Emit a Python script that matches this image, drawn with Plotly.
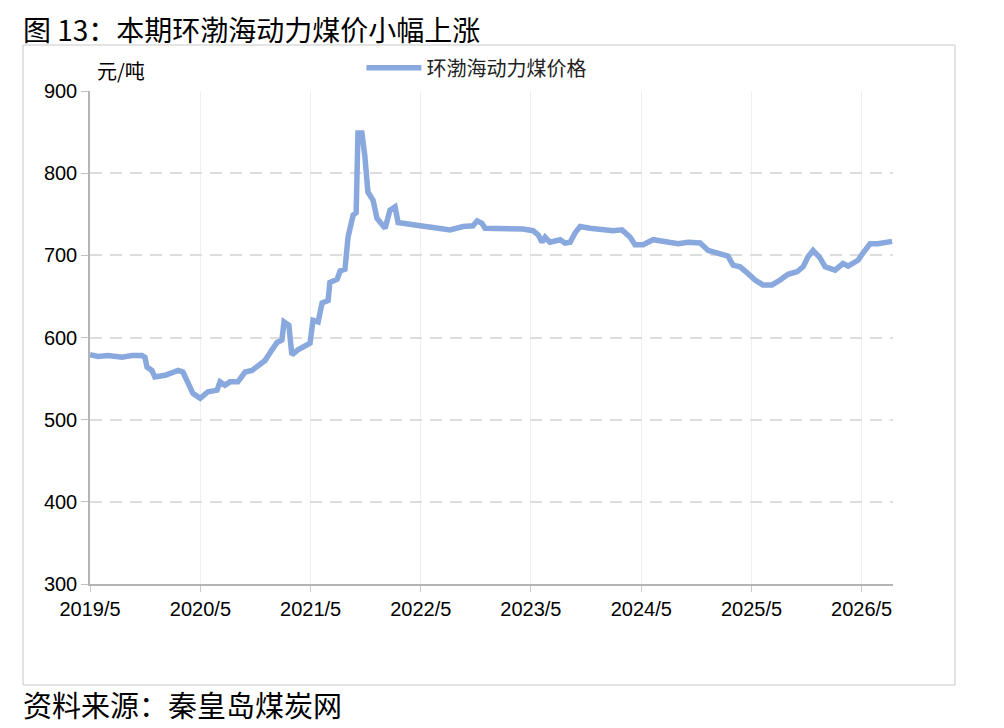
import plotly.graph_objects as go

# 环渤海动力煤价格（元/吨），读图估计
dates = [
    "2019-05-01", "2019-05-27", "2019-06-30", "2019-08-15", "2019-09-17", "2019-10-20",
    "2019-10-30", "2019-11-06", "2019-11-22", "2019-12-02", "2020-01-05", "2020-01-28",
    "2020-02-17", "2020-03-04", "2020-03-21", "2020-04-06", "2020-04-30", "2020-05-26",
    "2020-06-25", "2020-07-05", "2020-07-21", "2020-08-07", "2020-09-02", "2020-09-26",
    "2020-10-19", "2020-11-08", "2020-12-01", "2020-12-24", "2021-01-10", "2021-01-26",
    "2021-02-02", "2021-02-18", "2021-02-28", "2021-03-20", "2021-04-12", "2021-04-29",
    "2021-05-09", "2021-05-26", "2021-06-08", "2021-06-28", "2021-07-04", "2021-07-28",
    "2021-08-07", "2021-08-23", "2021-09-02", "2021-09-19", "2021-09-29", "2021-10-05",
    "2021-10-18", "2021-10-28", "2021-11-07", "2021-11-24", "2021-12-07", "2022-01-03",
    "2022-01-19", "2022-02-05", "2022-02-15", "2022-03-16", "2022-04-29", "2022-06-11",
    "2022-08-06", "2022-09-18", "2022-10-21", "2022-11-04", "2022-11-20", "2022-11-30",
    "2023-01-29", "2023-02-21", "2023-04-05", "2023-05-08", "2023-05-25", "2023-06-07",
    "2023-06-17", "2023-07-03", "2023-08-06", "2023-08-22", "2023-09-08", "2023-09-24",
    "2023-10-11", "2023-11-13", "2023-12-16", "2024-01-28", "2024-02-27", "2024-03-25",
    "2024-04-10", "2024-05-07", "2024-06-09", "2024-07-25", "2024-08-31", "2024-10-03",
    "2024-11-12", "2024-12-08", "2025-01-10", "2025-02-12", "2025-03-01", "2025-03-24",
    "2025-04-16", "2025-05-13", "2025-06-08", "2025-07-08", "2025-08-04", "2025-08-30",
    "2025-09-29", "2025-10-19", "2025-11-04", "2025-11-21", "2025-12-14", "2025-12-31",
    "2026-02-02", "2026-02-28", "2026-03-17", "2026-04-19", "2026-05-06", "2026-05-29",
    "2026-06-24", "2026-07-18", "2026-08-10",
]
prices = [
    579, 577, 578, 576, 578, 578,
    576, 564, 560, 552, 554, 557,
    560, 558, 546, 532, 526, 534,
    536, 546, 542, 546, 546, 558,
    560, 566, 572, 585, 594, 597,
    619, 615, 579, 585, 590, 593,
    621, 619, 642, 645, 667, 671,
    681, 683, 722, 749, 752, 849,
    849, 820, 777, 767, 745, 733,
    755, 759, 740, 739, 736, 734,
    731, 735, 736, 742, 739, 733,
    733, 732, 732, 730, 725, 716,
    722, 716, 719, 715, 716, 727,
    735, 733, 731, 730, 731, 722,
    713, 713, 719, 716, 714, 716,
    715, 706, 703, 699, 688, 686,
    679, 670, 664, 664, 670, 677,
    680, 686, 698, 706, 697, 686,
    682, 690, 687, 694, 703, 714,
    714, 716, 717,
]

tick_vals = ["2019-05-01", "2020-05-01", "2021-05-01", "2022-05-01",
             "2023-05-01", "2024-05-01", "2025-05-01", "2026-05-01"]
tick_text = ["2019/5", "2020/5", "2021/5", "2022/5",
             "2023/5", "2024/5", "2025/5", "2026/5"]

cjk = "Noto Sans CJK SC"
num_font = "Liberation Sans"

fig = go.Figure()
fig.add_trace(go.Scatter(x=dates, y=prices, mode="lines", name="环渤海动力煤价格",
                         line=dict(color="#89A8DD", width=5.5)))

# page body has an 8px margin, so the figure is a bit smaller than the window
fig.update_layout(
    width=996, height=720,
    margin=dict(l=82, r=111, t=83, b=144),
    paper_bgcolor="white", plot_bgcolor="white",
    font=dict(family=num_font, size=20, color="black"),
    showlegend=True,
    legend=dict(x=0.338, y=1.047, xanchor="left", yanchor="middle",
                itemwidth=55,
                font=dict(family=cjk, size=20, color="#222"),
                bgcolor="rgba(0,0,0,0)"),
    xaxis=dict(range=["2019-05-01", "2026-08-13"], tickvals=tick_vals, ticktext=tick_text,
               showgrid=True, gridcolor="#efefef", gridwidth=1,
               showline=True, linecolor="#b4b4b4", linewidth=1.5,
               ticks="outside", ticklen=6, tickcolor="#c8c8c8",
               tickfont=dict(family=num_font, size=20, color="black")),
    yaxis=dict(range=[300, 900], dtick=100,
               showgrid=True, gridcolor="#dddddd", griddash="12px,8px", gridwidth=1.5,
               showline=True, linecolor="#b4b4b4", linewidth=1.5,
               ticks="outside", ticklen=7, tickcolor="#c0c0c0",
               zeroline=False,
               tickfont=dict(family=num_font, size=20, color="black")),
)

# outer frame around the chart
fig.add_shape(type="rect", xref="paper", yref="paper",
              x0=-0.0834, x1=1.0772, y0=-0.2049, y1=1.0933,
              line=dict(color="#c8c8c8", width=1), layer="below")

fig.add_annotation(text="元/吨", xref="paper", yref="paper", x=0.006, y=1.041,
                   xanchor="left", yanchor="middle", showarrow=False,
                   font=dict(family=cjk, size=20, color="black"))
fig.add_annotation(text="图 13：本期环渤海动力煤价小幅上涨", xref="paper", yref="paper",
                   x=-0.085, y=1.168, xanchor="left", yanchor="top", showarrow=False,
                   borderpad=0,
                   font=dict(family=cjk, size=28, color="black"))
fig.add_annotation(text="资料来源：秦皇岛煤炭网", xref="paper", yref="paper",
                   x=-0.085, y=-0.2435, xanchor="left", yanchor="middle", showarrow=False,
                   borderpad=0,
                   font=dict(family=cjk, size=29, color="black"))

fig.write_html("out.html")
